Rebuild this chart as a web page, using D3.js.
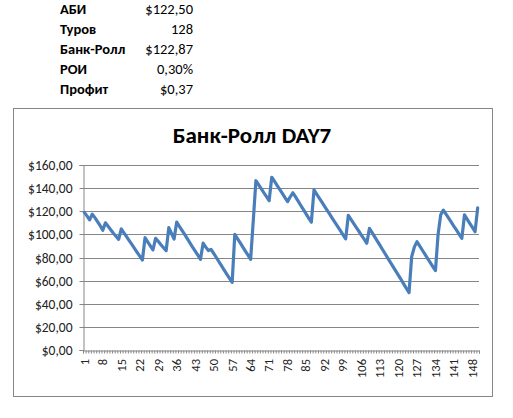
<!DOCTYPE html>
<html><head><meta charset="utf-8">
<script src="https://cdn.jsdelivr.net/npm/d3@7"></script>
<style>
html,body{margin:0;padding:0;background:#fff;}
svg{display:block;}
</style></head>
<body>
<svg id="c" width="513" height="418"></svg>
<script>
const statLabels = ["АБИ", "Туров", "Банк-Ролл", "РОИ", "Профит"];
const statValues = ["$122,50", "128", "$122,87", "0,30%", "$0,37"];
const chartTitle = "Банк-Ролл DAY7";
const categories = d3.range(1, 151);
const bankroll = [
 119,116,112.5,117.5,114.5,111,107.5,103.5,110,107,
 104,101,98.3,95.7,104.7,101.3,98,94.6,91.3,87.9,
 84.5,81.2,77.8,97.1,93.5,90,86.5,96.5,94,91,
 88.5,85.9,105.8,101,96,110.7,107,103.5,100,96.3,
 92.7,89,85.5,82,78.4,92.5,89,86,87,83.5,
 80,76.3,72.7,69,65.5,62,58.5,100,96.4,92.8,
 89.2,85.6,82,78.4,112,146.4,143,139.5,136,132.6,
 129.1,149.4,146,142.4,138.9,135.4,131.8,128.3,132.5,136,
 132.4,128.7,125,121.4,117.8,114.1,110.5,138.4,134.9,131.3,
 127.8,124.3,120.8,117.3,113.7,110.2,106.7,103.2,99.6,96.1,
 116.5,113,109.6,106.1,102.7,99.2,95.8,92.3,105.3,101.6,
 97.9,94.2,90.5,86.7,83,79.3,75.6,71.9,68.2,64.5,
 60.8,57,53.3,49.6,80.7,89,93.7,90.1,86.5,82.9,
 79.3,75.8,72.2,68.6,100,117,121,117.5,114,110.5,
 107,103.6,100.1,96.6,116.8,113.2,109.6,106,102.3,122.87
];
const yTicks = [0,20,40,60,80,100,120,140,160];
const xLabelEvery = 7;

(function(){
const svg = d3.select("#c");
const font = "Carlito, Calibri, Lato, 'Open Sans', sans-serif";

// stats table
const tbl = svg.append("g").attr("font-family", font).attr("font-size", 14.5).attr("fill", "#000");
statLabels.forEach((l, i) => {
  const yy = 13.5 + i * 20.2;
  tbl.append("text").attr("x", 60).attr("y", yy).attr("font-weight", "bold").text(l);
  tbl.append("text").attr("x", 193).attr("y", yy).attr("text-anchor", "end").text(statValues[i]);
});

// chart frame
svg.append("rect").attr("x", 13.5).attr("y", 108.5).attr("width", 479).attr("height", 288)
  .attr("fill", "#fff").attr("stroke", "#868686").attr("stroke-width", 1);

svg.append("text").attr("x", 252).attr("y", 142.5).attr("text-anchor", "middle")
  .attr("font-family", font).attr("font-weight", "bold").attr("font-size", 23)
  .attr("fill", "#000").text(chartTitle);

const pl = 83, pr = 479, pt = 165, pb = 350;
const x = d3.scaleBand().domain(categories).range([pl, pr]).padding(0);
const xb = d3.scaleLinear().domain([0, categories.length]).range([pl, pr]);
const y = d3.scaleLinear().domain([0, 160]).range([pb, pt]);

// gridlines
svg.append("g").selectAll("line").data(yTicks.filter(d => d > 0)).join("line")
  .attr("x1", pl).attr("x2", pr)
  .attr("y1", d => Math.round(y(d)) + 0.5).attr("y2", d => Math.round(y(d)) + 0.5)
  .attr("stroke", "#868686").attr("stroke-width", 1);

// y axis
const yAxis = svg.append("g").attr("transform", `translate(${pl + 0.5},0)`)
  .call(d3.axisLeft(y).tickValues(yTicks).tickSize(4).tickPadding(7)
    .tickFormat(d => "$" + d3.format(".2f")(d).replace(".", ",")));
yAxis.select(".domain").attr("stroke", "#868686");
yAxis.selectAll(".tick line").attr("stroke", "#868686");
yAxis.selectAll(".tick text").attr("font-family", font).attr("font-size", 13.5).attr("fill", "#222");
yAxis.selectAll(".tick").attr("transform", d => `translate(0,${Math.round(y(d)) + 0.5})`);

// x axis minor ticks at category boundaries
const xTicks = svg.append("g").attr("transform", `translate(0,${pb + 0.5})`)
  .call(d3.axisBottom(xb).tickValues(d3.range(0, categories.length + 1)).tickSize(3).tickFormat(""));
xTicks.select(".domain").attr("stroke", "#868686");
xTicks.selectAll(".tick line").attr("stroke", "#868686");

// x axis labels
const xAxis = svg.append("g").attr("transform", `translate(0,${pb})`)
  .call(d3.axisBottom(x).tickValues(categories.filter((d, i) => i % xLabelEvery === 0)).tickSize(0));
xAxis.select(".domain").remove();
xAxis.selectAll(".tick text")
  .attr("font-family", font).attr("font-size", 12.5).attr("fill", "#222")
  .attr("transform", "rotate(-90)").attr("text-anchor", "end")
  .attr("x", -9).attr("y", 0).attr("dy", "0.35em");

// line
const line = d3.line().x((d, i) => x(categories[i]) + x.bandwidth() / 2).y(d => y(d));
svg.append("path").datum(bankroll).attr("d", line)
  .attr("fill", "none").attr("stroke", "#4a7ebb").attr("stroke-width", 3.2)
  .attr("stroke-linejoin", "round").attr("stroke-linecap", "round");
})();
</script>
</body></html>
